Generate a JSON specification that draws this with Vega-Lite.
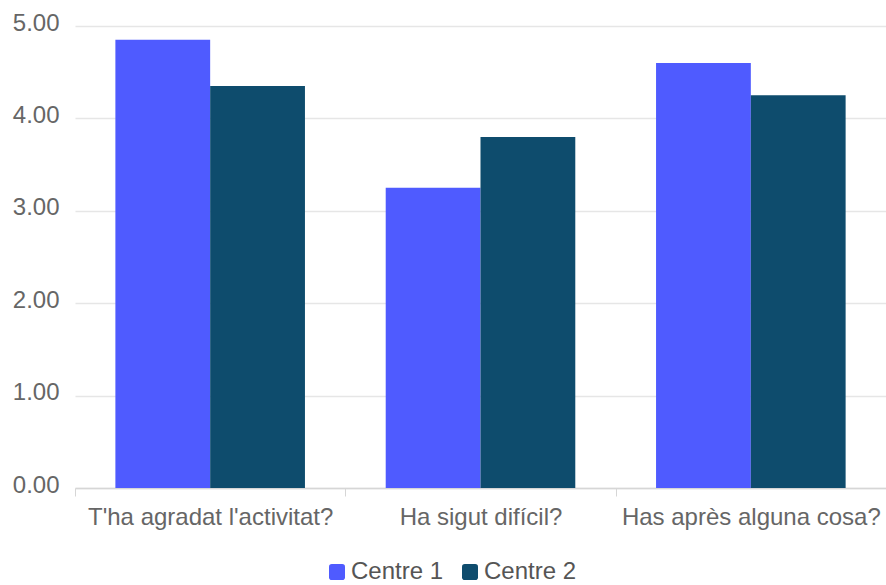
{
  "$schema": "https://vega.github.io/schema/vega-lite/v6.json",
  "width": 811,
  "height": 462,
  "autosize": {"type": "none"},
  "padding": {"left": 75, "top": 26, "right": 0, "bottom": 97},
  "background": "white",
  "data": {
    "values": [
      {"pregunta": "T'ha agradat l'activitat?", "centre": "Centre 1", "valor": 4.85},
      {"pregunta": "T'ha agradat l'activitat?", "centre": "Centre 2", "valor": 4.35},
      {"pregunta": "Ha sigut difícil?", "centre": "Centre 1", "valor": 3.25},
      {"pregunta": "Ha sigut difícil?", "centre": "Centre 2", "valor": 3.8},
      {"pregunta": "Has après alguna cosa?", "centre": "Centre 1", "valor": 4.6},
      {"pregunta": "Has après alguna cosa?", "centre": "Centre 2", "valor": 4.25}
    ]
  },
  "mark": {"type": "bar"},
  "encoding": {
    "x": {
      "field": "pregunta",
      "type": "nominal",
      "sort": null,
      "title": null,
      "scale": {"paddingInner": 0, "paddingOuter": 0},
      "axis": {
        "labelAngle": 0,
        "labelLimit": 0,
        "labelFont": "Liberation Sans",
        "labelFontSize": 24,
        "labelColor": "#666666",
        "labelPadding": 9,
        "labelBaseline": "top",
        "tickBand": "extent",
        "tickSize": 8,
        "tickColor": "#d6d6d6",
        "domainColor": "#d6d6d6",
        "domainWidth": 1.5,
        "grid": false
      }
    },
    "xOffset": {
      "field": "centre",
      "type": "nominal",
      "scale": {"paddingInner": 0, "paddingOuter": 0.426}
    },
    "y": {
      "field": "valor",
      "type": "quantitative",
      "title": null,
      "scale": {"domain": [0, 5], "nice": false},
      "axis": {
        "values": [0, 1, 2, 3, 4, 5],
        "format": ".2f",
        "domain": false,
        "ticks": false,
        "labelPadding": 16,
        "labelOffset": -3,
        "labelFont": "Liberation Sans",
        "labelFontSize": 24,
        "labelColor": "#666666",
        "gridColor": "#e6e6e6",
        "gridWidth": 1.5
      }
    },
    "color": {
      "field": "centre",
      "type": "nominal",
      "scale": {"domain": ["Centre 1", "Centre 2"], "range": ["#4f5bff", "#0e4c6d"]},
      "legend": {
        "title": null,
        "orient": "none",
        "legendX": 250,
        "legendY": 534,
        "direction": "horizontal",
        "symbolType": "M-1,-0.65Q-1,-1,-0.65,-1L0.65,-1Q1,-1,1,-0.65L1,0.65Q1,1,0.65,1L-0.65,1Q-1,1,-1,0.65Z",
        "symbolSize": 256,
        "symbolStrokeWidth": 0,
        "symbolOpacity": 1,
        "labelFont": "Liberation Sans",
        "labelFontSize": 24,
        "labelColor": "#555555",
        "labelOffset": 2,
        "columnPadding": 14
      }
    }
  },
  "config": {"view": {"stroke": null}}
}
